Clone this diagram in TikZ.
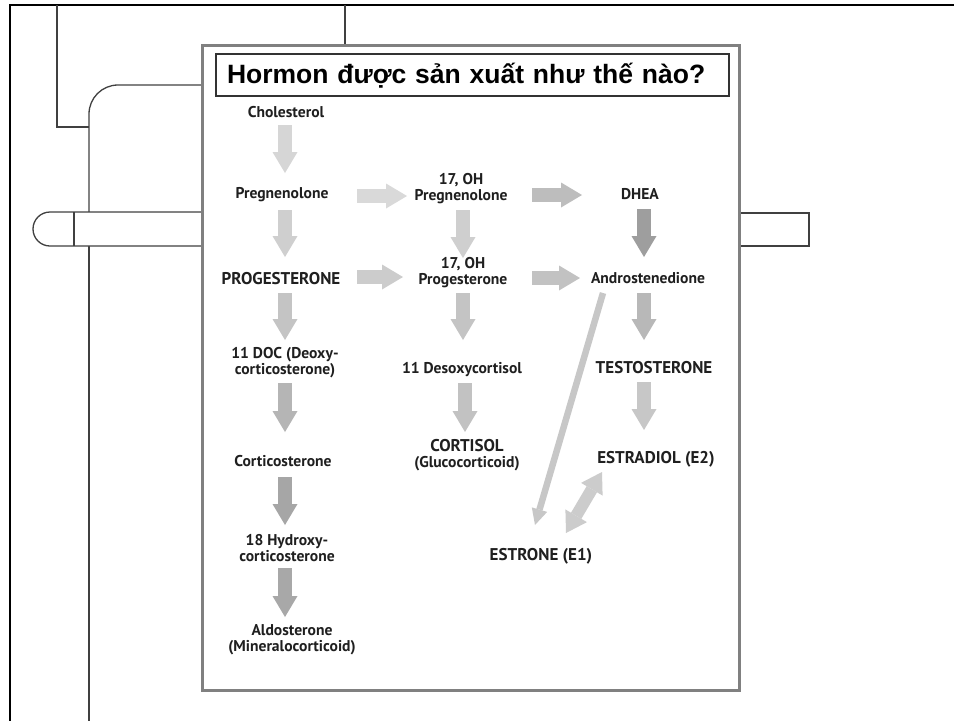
\documentclass[tikz,border=0pt]{standalone}
\usepackage{fontspec}
\setmainfont{PT Sans}
\newfontfamily\titlefont{Liberation Sans}
\usetikzlibrary{arrows.meta,calc}
\definecolor{txt}{HTML}{1F1F1F}
\definecolor{deco}{HTML}{404040}
\begin{document}
\begin{tikzpicture}[x=1pt,y=-1pt,
  lbl/.style={font=\bfseries\fontsize{15.6}{16}\selectfont, text=txt, align=center, inner sep=0pt},
  big/.style={lbl, font=\bfseries\fontsize{17}{17}\selectfont},
  blk/.style={line width=14pt, draw=black!#1, -{Triangle[width=25pt,length=21pt,line width=0pt]}},
  thinblk/.style={line width=6.5pt, draw=black!#1, -{Triangle[width=16pt,length=16pt,line width=0pt]}},
  dblblk/.style={line width=12pt, draw=black!#1, {Triangle[width=25pt,length=20pt,line width=0pt]}-{Triangle[width=25pt,length=20pt,line width=0pt]}},
  decoline/.style={draw=deco, line width=1.3pt},
]
\useasboundingbox (0,0) rectangle (954,721);
% outer frame
\draw[line width=2.5pt, black] (954,5) -- (10,5) -- (10,721);
% decorative lines
\draw[decoline] (57,5) -- (57,127) -- (89,127);
\draw[decoline] (202,85) -- (118,85) .. controls (102,85) and (89,98) .. (89,114) -- (89,212);
\draw[decoline] (89,246) -- (89,721);
\draw[decoline] (345,5) -- (345,45);
\draw[decoline, fill=white] (202,212) -- (50,212) .. controls (40.6,212) and (33,219.6) .. (33,229) .. controls (33,238.4) and (40.6,246) .. (50,246) -- (202,246);
\draw[decoline] (74,212) -- (74,246);
\draw[decoline] (739,213) -- (809,213) -- (809,246) -- (739,246);
% panel
\draw[draw=black!50, line width=3pt, fill=white] (202,45) rectangle (739,690);
% title
\node (title) [draw=black!80, line width=1.2pt, minimum width=513pt, minimum height=42pt,
  inner xsep=11pt, text width=491pt, align=left, text height=19pt, text depth=3pt,
  font=\titlefont\bfseries\fontsize{26.5}{28}\selectfont] at (472.5,75) {Hormon được sản xuất như thế nào?};
% labels
\node[lbl] (chol) at (286,112) {Cholesterol};
\node[lbl] (preg) at (282,195) {Pregnenolone};
\node[big] (prog) at (281,279) {PROGESTERONE};
\node[lbl] (doc) at (285,363) {11 DOC (Deoxy-\\corticosterone)};
\node[lbl] (cort) at (283,461) {Corticosterone};
\node[lbl] (hyd) at (287,548) {18 Hydroxy-\\corticosterone};
\node[lbl] (aldo) at (292,640) {Aldosterone\\(Mineralocorticoid)};
\node[lbl] (p17) at (461,189) {17, OH\\Pregnenolone};
\node[lbl] (g17) at (463,273) {17, OH\\Progesterone};
\node[lbl] (desoxy) at (462,370) {11 Desoxycortisol};
\node[lbl] (cortisol) at (467,455) {{\fontsize{17}{16}\selectfont CORTISOL}\\(Glucocorticoid)};
\node[lbl] (dhea) at (640,194) {DHEA};
\node[lbl] (andro) at (648,278) {Androstenedione};
\node[big] (testo) at (654,368) {TESTOSTERONE};
\node[big] (estradiol) at (656,459) {ESTRADIOL (E2)};
\node[big] (estrone) at (541,556) {ESTRONE (E1)};
% arrows
\draw[blk=16] ($(chol)+(-1,13)$) -- ($(preg)+(3,-22)$);
\draw[blk=19] ($(preg)+(3,15)$) -- ($(prog)+(4,-22)$);
\draw[blk=23] ($(prog)+(4,14)$) -- ($(doc)+(0,-23)$);
\draw[blk=29] ($(doc)+(0,20)$) -- ($(cort)+(2,-29)$);
\draw[blk=35] ($(cort)+(2,16)$) -- ($(hyd)+(-2,-23)$);
\draw[blk=34] ($(hyd)+(-2,20)$) -- ($(aldo)+(-7,-23)$);
\draw[blk=15] ($(preg)+(75,1)$) -- ($(p17)+(-54,7)$);
\draw[blk=20] ($(prog)+(76,-2)$) -- ($(g17)+(-60,4)$);
\draw[blk=19] ($(p17)+(2,21)$) -- ($(g17)+(0,-15)$);
\draw[blk=23] ($(g17)+(0,20)$) -- ($(desoxy)+(1,-30)$);
\draw[blk=24] ($(desoxy)+(3,13)$) -- ($(cortisol)+(-2,-23)$);
\draw[blk=26] ($(p17)+(71,6)$) -- ($(dhea)+(-58,1)$);
\draw[blk=24] ($(g17)+(69,5)$) -- ($(andro)+(-68,0)$);
\draw[blk=38] ($(dhea)+(4,15)$) -- ($(andro)+(-4,-21)$);
\draw[blk=28] ($(andro)+(-4,15)$) -- ($(testo)+(-10,-28)$);
\draw[blk=22] ($(testo)+(-10,14)$) -- ($(estradiol)+(-12,-29)$);
\draw[thinblk=22] ($(andro)+(-45,15)$) -- ($(estrone)+(-6,-31)$);
\draw[dblblk=20] ($(estradiol)+(-54,13)$) -- ($(estrone)+(25,-23)$);
\end{tikzpicture}
\end{document}
